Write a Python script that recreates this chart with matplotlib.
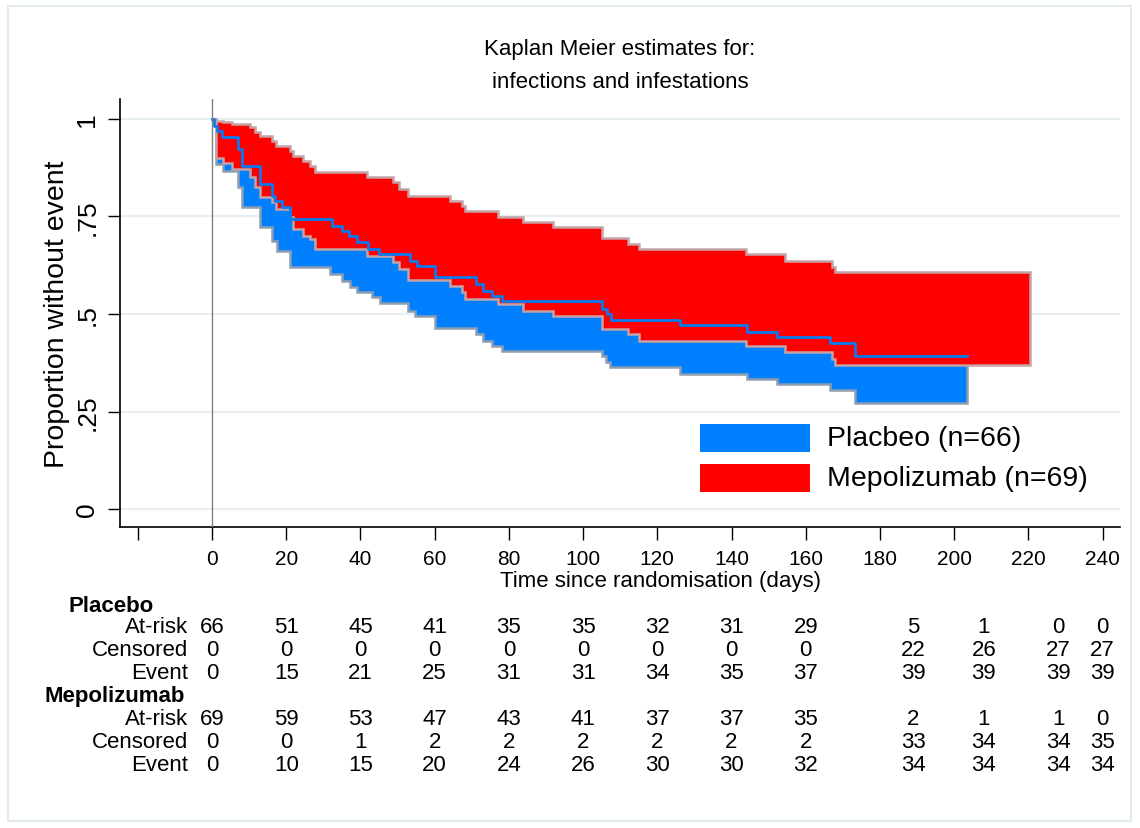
import numpy as np
import matplotlib
matplotlib.use("Agg")
import matplotlib.pyplot as plt
from matplotlib.patches import Rectangle
import matplotlib.transforms as mtransforms

plt.rcParams['font.family'] = ['Liberation Sans', 'DejaVu Sans']

# placebo: KM estimate (blue line), lower / upper confidence limits
pla_t = [0, 0.6, 1.3, 2.7, 7.0, 8.1, 12.9, 16.2, 17.0, 18.9, 21.0, 32.3, 35.0, 37.0, 39.0, 42.0,
         45.0, 53.4, 55.3, 60.0, 71.2, 73.0, 75.5, 78.2, 105.1, 106.5, 107.5, 126.0, 144.2, 152.3,
         166.6, 173.3]
pla_km = [1.0, 0.982, 0.969, 0.954, 0.923, 0.879, 0.833, 0.803, 0.790, 0.774, 0.744, 0.726, 0.713,
          0.700, 0.685, 0.667, 0.654, 0.636, 0.623, 0.595, 0.577, 0.559, 0.546, 0.533, 0.513, 0.500,
          0.485, 0.472, 0.454, 0.441, 0.426, 0.392]
pla_hi = [1.0, 0.99, 0.99, 0.985, 0.97, 0.945, 0.91, 0.885, 0.875, 0.86, 0.835, 0.82, 0.81, 0.80,
          0.785, 0.77, 0.76, 0.745, 0.735, 0.71, 0.69, 0.675, 0.665, 0.65, 0.63, 0.62, 0.605, 0.59,
          0.575, 0.56, 0.545, 0.515]
pla_lo_t = [0, 1.0, 3.0, 7.0, 8.1, 12.9, 16.2, 17.5, 21.0, 31.8, 35.0, 37.2, 39.0, 43.1, 45.3, 52.8,
            54.7, 60.0, 71.2, 73.0, 75.5, 78.2, 105.1, 106.2, 107.3, 126.0, 144.2, 152.3, 166.6, 173.3]
pla_lo = [1.0, 0.885, 0.867, 0.826, 0.774, 0.723, 0.687, 0.662, 0.621, 0.603, 0.585, 0.569, 0.556,
          0.544, 0.528, 0.508, 0.495, 0.464, 0.449, 0.431, 0.418, 0.405, 0.392, 0.377, 0.364, 0.346,
          0.333, 0.321, 0.305, 0.272]
pla_end = 203.5

# mepolizumab: confidence limits
mep_t = [0, 1.1, 3.0, 5.4, 10.2, 11.6, 12.9, 16.2, 17.3, 21.0, 21.8, 24.5, 26.4, 27.8, 41.8, 48.8,
         50.3, 52.8, 64.2, 67.4, 68.2, 77.0, 83.8, 91.9, 105.0, 112.0, 115.0, 144.0, 154.4, 167.0, 168.0]
mep_hi = [1.0, 0.995, 0.993, 0.987, 0.979, 0.967, 0.956, 0.944, 0.931, 0.918, 0.905, 0.892, 0.879,
          0.864, 0.851, 0.838, 0.821, 0.803, 0.790, 0.777, 0.764, 0.749, 0.736, 0.723, 0.695, 0.679,
          0.667, 0.654, 0.636, 0.620, 0.608]
mep_lo = [1.0, 0.900, 0.887, 0.872, 0.851, 0.826, 0.800, 0.787, 0.769, 0.749, 0.718, 0.700, 0.692,
          0.667, 0.649, 0.633, 0.615, 0.588, 0.572, 0.556, 0.538, 0.526, 0.508, 0.495, 0.462, 0.449,
          0.431, 0.418, 0.403, 0.385, 0.369]
mep_end = 220.5

# numbers at risk table
tab_times = [0, 20, 40, 60, 80, 100, 120, 140, 160, 189, 208, 228, 240]
pla_risk = [66, 51, 45, 41, 35, 35, 32, 31, 29, 5, 1, 0, 0]
pla_cens = [0, 0, 0, 0, 0, 0, 0, 0, 0, 22, 26, 27, 27]
pla_event = [0, 15, 21, 25, 31, 31, 34, 35, 37, 39, 39, 39, 39]
mep_risk = [69, 59, 53, 47, 43, 41, 37, 37, 35, 2, 1, 1, 0]
mep_cens = [0, 0, 1, 2, 2, 2, 2, 2, 2, 33, 34, 34, 35]
mep_event = [0, 10, 15, 20, 24, 26, 30, 30, 32, 34, 34, 34, 34]

xticks = list(range(-20, 241, 20))
yticks = [0, 0.25, 0.5, 0.75, 1]
ylabels = ["0", ".25", ".5", ".75", "1"]

blue = "#0080ff"
red = "#ff0000"
W, H = 1140, 829


def steps(t, v, t_end):
    x = np.append(np.repeat(t, 2)[1:], t_end)
    y = np.repeat(v, 2)
    return x, y


def fx(px):
    return px / W


def fy(py):
    return 1 - py / H


fig = plt.figure(figsize=(11.4, 8.29), dpi=100)
ax = fig.add_axes([fx(120), fy(528), fx(1120) - fx(120), fy(100) - fy(528)])

for y in yticks:
    ax.axhline(y, color="#e8eff2", lw=1.5, zorder=0)

# placebo band
xu, yu = steps(pla_t, pla_hi, pla_end)
xl, yl = steps(pla_lo_t, pla_lo, pla_end)
ax.fill(np.r_[xu, xl[::-1]], np.r_[yu, yl[::-1]], facecolor=blue, edgecolor="#8c9db2", lw=1.8, zorder=2)

# mepolizumab band
xu, yu = steps(mep_t, mep_hi, mep_end)
xl, yl = steps(mep_t, mep_lo, mep_end)
ax.fill(np.r_[xu, xl[::-1]], np.r_[yu, yl[::-1]], facecolor=red, edgecolor="#c4a2a6", lw=1.8, zorder=3)

# placebo KM line
xk, yk = steps(pla_t, pla_km, pla_end)
ax.plot(xk, yk, color="#0a7af0", lw=2, zorder=4)

ax.axvline(0, color="#808080", lw=1, zorder=5)

ax.set_xlim(-24.8, 244.7)
ax.set_ylim(-0.046, 1.051)
ax.set_xticks(xticks)
ax.set_xticklabels(["" if t < 0 else str(t) for t in xticks], fontsize=15)
ax.set_yticks(yticks)
ax.set_yticklabels(ylabels, fontsize=19, rotation=90, va="center")
ax.tick_params(axis="x", length=9, width=1, pad=7)
ax.tick_params(axis="y", length=9, width=1, pad=6)
for s in ["top", "right"]:
    ax.spines[s].set_visible(False)
for s in ["left", "bottom"]:
    ax.spines[s].set_linewidth(1.2)

fig.text(fx(620), fy(50), "Kaplan Meier estimates for:", ha="center", va="center", fontsize=16)
fig.text(fx(620), fy(83), "infections and infestations", ha="center", va="center", fontsize=16)
fig.text(fx(660), fy(582), "Time since randomisation (days)", ha="center", va="center", fontsize=16)
fig.text(fx(57), fy(314), "Proportion without event", ha="center", va="center", fontsize=20.5,
         rotation=90)

# legend
for py, col, lab in [(425, blue, "Placbeo (n=66)"), (465, red, "Mepolizumab (n=69)")]:
    fig.add_artist(Rectangle((fx(700), fy(py + 28)), fx(110), 28 / H, transform=fig.transFigure,
                             facecolor=col, edgecolor="none"))
    fig.text(fx(827), fy(py + 14), lab, ha="left", va="center", fontsize=20.5)

# risk table
trans = mtransforms.blended_transform_factory(ax.transData, fig.transFigure)
rows = [("Placebo", 606, None), ("At-risk", 628, pla_risk), ("Censored", 651, pla_cens),
        ("Event", 674, pla_event), ("Mepolizumab", 697, None), ("At-risk", 720, mep_risk),
        ("Censored", 743, mep_cens), ("Event", 766, mep_event)]
for lab, py, vals in rows:
    if vals is None:
        x0 = 68 if lab == "Placebo" else 45
        fig.text(fx(x0), fy(py), lab, ha="left", va="center", fontsize=16, fontweight="bold")
    else:
        fig.text(fx(188), fy(py), lab, ha="right", va="center", fontsize=16)
        for t, v in zip(tab_times, vals):
            ax.text(t, fy(py), str(v), transform=trans, ha="center", va="center", fontsize=16)

fig.add_artist(Rectangle((fx(8), fy(822)), fx(1123), (822 - 7) / H, transform=fig.transFigure,
                         facecolor="none", edgecolor="#e3ebeb", lw=1.5))

fig.savefig("out.png", dpi=100)
